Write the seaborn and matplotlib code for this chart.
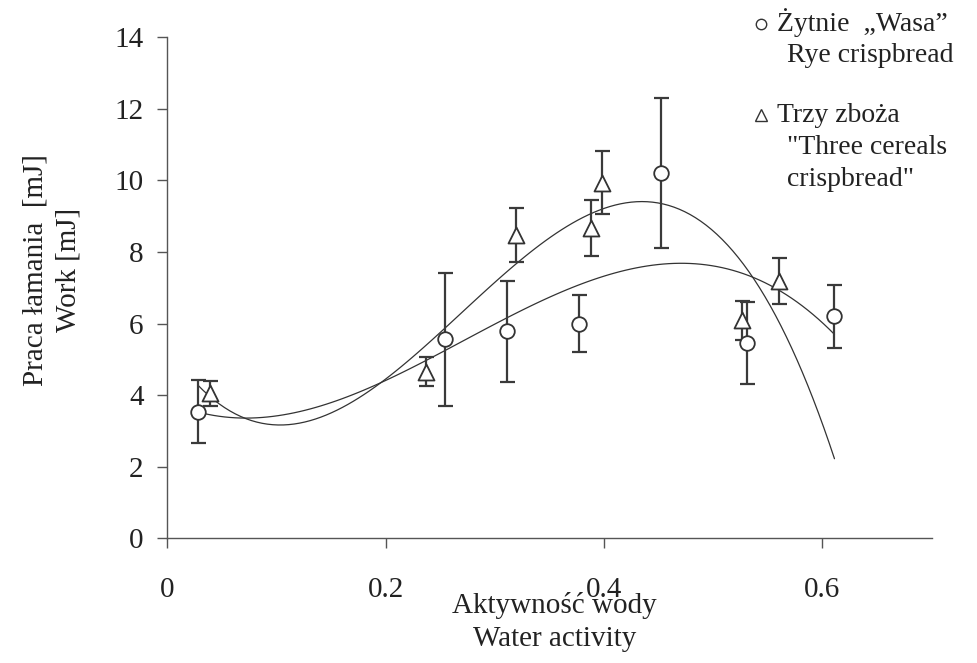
import numpy as np
import pandas as pd
import matplotlib
matplotlib.use("Agg")
import matplotlib.pyplot as plt
import seaborn as sns
from matplotlib.lines import Line2D

# Rye crispbread "Wasa" (circles)
rye_aw = [0.028, 0.254, 0.311, 0.377, 0.452, 0.531, 0.611]
rye_work = [3.53, 5.56, 5.78, 6.00, 10.20, 5.45, 6.20]
rye_sd = [0.88, 1.86, 1.40, 0.80, 2.10, 1.15, 0.89]

# Three cereals crispbread (triangles)
tri_aw = [0.039, 0.237, 0.319, 0.388, 0.398, 0.526, 0.560]
tri_work = [4.05, 4.66, 8.47, 8.67, 9.94, 6.09, 7.18]
tri_sd = [0.35, 0.41, 0.76, 0.78, 0.89, 0.55, 0.64]

x_ticks = [0, 0.2, 0.4, 0.6]
y_ticks = [0, 2, 4, 6, 8, 10, 12, 14]

sns.set_style("ticks")
plt.rcParams['font.family'] = ['Liberation Serif', 'DejaVu Sans']

ink = '#333333'
axis_col = '#555555'
txt = '#222222'

fig = plt.figure(figsize=(9.77, 6.63), dpi=100)
ax = fig.add_axes([0.1712, 0.1881, 0.7824, 0.7557])

rye = pd.DataFrame({'aw': rye_aw, 'work': rye_work, 'sd': rye_sd})
tri = pd.DataFrame({'aw': tri_aw, 'work': tri_work, 'sd': tri_sd})

# polynomial trend lines (3rd order) over the full aw range
x_lo = min(rye_aw + tri_aw)
x_hi = max(rye_aw + tri_aw)
xs = np.linspace(x_lo, x_hi, 120)
for d in (rye, tri):
    coef = np.polyfit(d['aw'], d['work'], 3)
    trend = pd.DataFrame({'aw': xs, 'work': np.polyval(coef, xs)})
    sns.lineplot(data=trend, x='aw', y='work', ax=ax, color=ink, lw=0.9, zorder=2)

# error bars
for d in (rye, tri):
    ax.errorbar(d['aw'], d['work'], yerr=d['sd'], fmt='none', ecolor='#3a3a3a',
                elinewidth=1.6, capsize=5.4, capthick=1.6, zorder=3)

sns.scatterplot(data=rye, x='aw', y='work', ax=ax, marker='o', s=10.5**2,
                facecolor='white', edgecolor=ink, linewidth=1.3, zorder=4)
sns.scatterplot(data=tri, x='aw', y='work', ax=ax, marker='^', s=11.5**2,
                facecolor='white', edgecolor=ink, linewidth=1.3, zorder=4)

ax.set_xlim(0, 0.7)
ax.set_ylim(0, 14)
ax.set_xticks(x_ticks)
ax.set_xticklabels(['0', '0.2', '0.4', '0.6'])
ax.set_yticks(y_ticks)
sns.despine(ax=ax)
for s in ('left', 'bottom'):
    ax.spines[s].set_color(axis_col)
    ax.spines[s].set_linewidth(1.0)
ax.tick_params(axis='both', direction='out', length=7, width=1.0, color=axis_col,
               labelsize=21, labelcolor=txt)
ax.tick_params(axis='x', pad=21)
ax.tick_params(axis='y', pad=10)

ax.set_xlabel('Aktywność wody\nWater activity', fontsize=21, color=txt, linespacing=1.32)
ax.xaxis.set_label_coords(0.507, -0.108)
ax.set_ylabel('Praca łamania  [mJ]\nWork [mJ]', fontsize=21, color=txt, linespacing=1.38)
ax.yaxis.set_label_coords(-0.112, 0.535)

# legend drawn as text beside the plot
fs = 20
fig.add_artist(Line2D([761 / 977], [1 - 24 / 663], marker='o', ms=7.5, mfc='white',
                      mec=ink, mew=1.0, ls='none'))
fig.add_artist(Line2D([761 / 977], [1 - 115 / 663], marker='^', ms=8, mfc='white',
                      mec=ink, mew=1.0, ls='none'))
fig.text(777 / 977, 1 - 23 / 663, 'Żytnie  „Wasa”', fontsize=fs, va='center', color=txt)
fig.text(787 / 977, 1 - 55 / 663, 'Rye crispbread', fontsize=fs, va='center', color=txt)
fig.text(777 / 977, 1 - 115 / 663, 'Trzy zboża', fontsize=fs, va='center', color=txt)
fig.text(787 / 977, 1 - 147 / 663, '"Three cereals', fontsize=fs, va='center', color=txt)
fig.text(787 / 977, 1 - 180 / 663, 'crispbread"', fontsize=fs, va='center', color=txt)

fig.savefig('out.png', dpi=100)
